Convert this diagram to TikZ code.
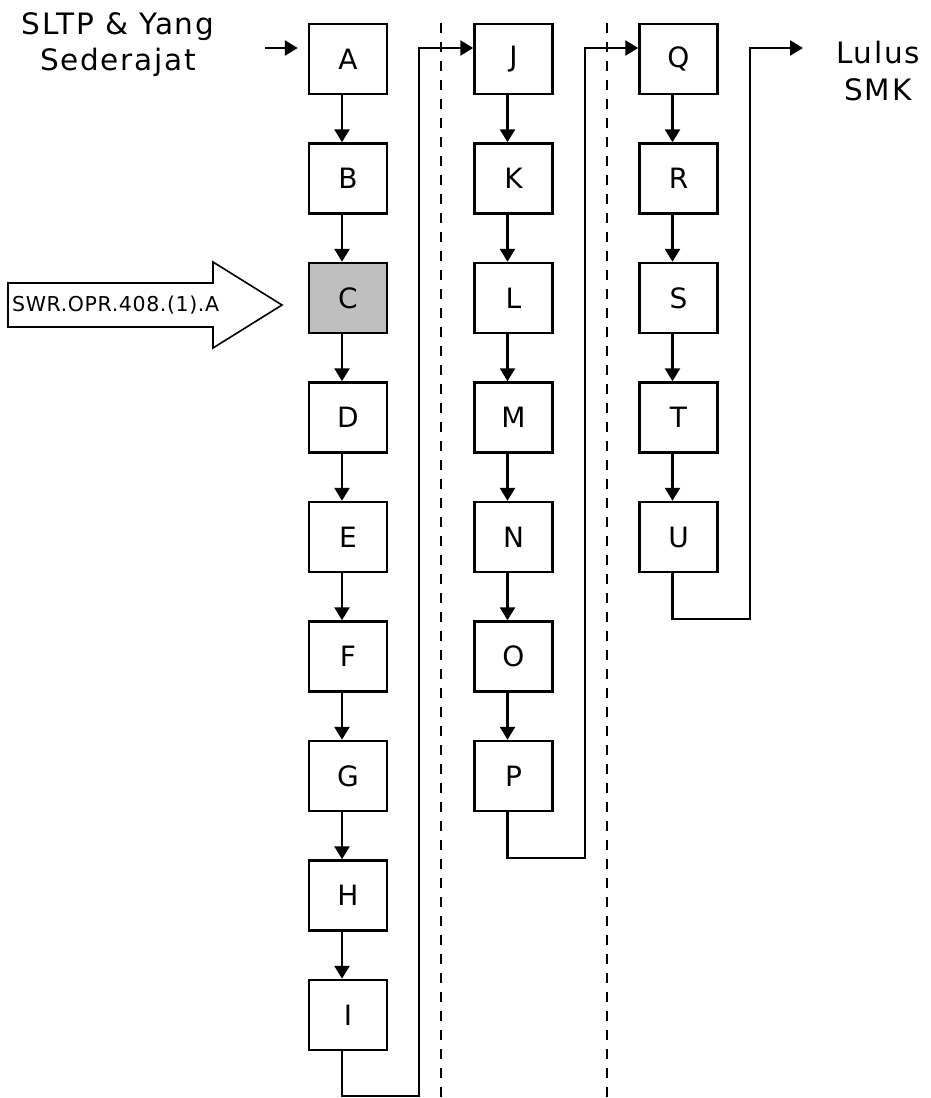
\documentclass[tikz,border=0pt]{standalone}
\usepackage{fontspec}
\setmainfont{DejaVu Sans}
\newfontfamily\widefont[LetterSpace=6]{DejaVu Sans}
\newfontfamily\codefont[LetterSpace=3]{DejaVu Sans}
\usepackage{tikz}
\usetikzlibrary{positioning, arrows.meta, calc}

\begin{document}
\begin{tikzpicture}[x=1pt, y=-1pt,
    unit/.style={rectangle, draw, black, line width=2.5pt, minimum width=78pt, minimum height=70pt, inner sep=0pt, font=\fontsize{28}{32}\selectfont},
    marked/.style={unit, fill=black!25},
    link/.style={draw, black, line width=2.6pt, -{Triangle[length=13pt, width=15pt]}},
    divider/.style={draw, black, line width=2.4pt, dash pattern=on 10pt off 9pt},
    caption/.style={align=center, font=\widefont\fontsize{29.5}{36}\selectfont}]

    \useasboundingbox (0,0) rectangle (930,1098);

    % First column
    \node[unit] (A) at (348, 59) {A};
    \node[unit] (B) at (348, 178.5) {B};
    \node[marked] (C) at (348, 298) {C};
    \node[unit] (D) at (348, 417.5) {D};
    \node[unit] (E) at (348, 537) {E};
    \node[unit] (F) at (348, 656.5) {F};
    \node[unit] (G) at (348, 776) {G};
    \node[unit] (H) at (348, 895.5) {H};
    \node[unit] (I) at (348, 1015) {I};

    % Second column
    \node[unit] (J) at (513.5, 59) {J};
    \node[unit] (K) at (513.5, 178.5) {K};
    \node[unit] (L) at (513.5, 298) {L};
    \node[unit] (M) at (513.5, 417.5) {M};
    \node[unit] (N) at (513.5, 537) {N};
    \node[unit] (O) at (513.5, 656.5) {O};
    \node[unit] (P) at (513.5, 776) {P};

    % Third column
    \node[unit] (Q) at (678.5, 59) {Q};
    \node[unit] (R) at (678.5, 178.5) {R};
    \node[unit] (S) at (678.5, 298) {S};
    \node[unit] (T) at (678.5, 417.5) {T};
    \node[unit] (U) at (678.5, 537) {U};

    % Entry and exit texts
    \node[caption] (entry) at (118, 45) {SLTP \& Yang\\Sederajat};
    \node[caption] (exit) at (878, 71) {Lulus\\SMK};
    \coordinate (entry_tail) at (265, 48);
    \coordinate (entry_tip) at ([shift={(-10pt,11pt)}]A.west);
    \coordinate (exit_tip) at (803, 48);

    % Column dividers
    \coordinate (div1_top) at (441, 23);
    \coordinate (div1_bot) at (441, 1098);
    \coordinate (div2_top) at (607, 23);
    \coordinate (div2_bot) at (607, 1098);
    \draw[divider] (div1_top) -- (div1_bot);
    \draw[divider] (div2_top) -- (div2_bot);

    % Competency arrow pointing at C
    \draw[line width=1.6pt, fill=white] (8,283) -- (213,283) -- (213,262) -- (282,305) -- (213,348) -- (213,327) -- (8,327) -- cycle;
    \node[anchor=west, inner sep=0pt, font=\codefont\fontsize{20.5}{24}\selectfont] (code) at (12, 305) {SWR.OPR.408.(1).A};

    % Entry arrow
    \draw[link] (entry_tail) -- (entry_tip);

    % Arrows inside the columns
    \draw[link] ([xshift=-6pt]A.south) -- ([xshift=-6pt]B.north);
    \draw[link] ([xshift=-6pt]B.south) -- ([xshift=-6pt]C.north);
    \draw[link] ([xshift=-6pt]C.south) -- ([xshift=-6pt]D.north);
    \draw[link] ([xshift=-6pt]D.south) -- ([xshift=-6pt]E.north);
    \draw[link] ([xshift=-6pt]E.south) -- ([xshift=-6pt]F.north);
    \draw[link] ([xshift=-6pt]F.south) -- ([xshift=-6pt]G.north);
    \draw[link] ([xshift=-6pt]G.south) -- ([xshift=-6pt]H.north);
    \draw[link] ([xshift=-6pt]H.south) -- ([xshift=-6pt]I.north);

    \draw[link] ([xshift=-6pt]J.south) -- ([xshift=-6pt]K.north);
    \draw[link] ([xshift=-6pt]K.south) -- ([xshift=-6pt]L.north);
    \draw[link] ([xshift=-6pt]L.south) -- ([xshift=-6pt]M.north);
    \draw[link] ([xshift=-6pt]M.south) -- ([xshift=-6pt]N.north);
    \draw[link] ([xshift=-6pt]N.south) -- ([xshift=-6pt]O.north);
    \draw[link] ([xshift=-6pt]O.south) -- ([xshift=-6pt]P.north);

    \draw[link] ([xshift=-6pt]Q.south) -- ([xshift=-6pt]R.north);
    \draw[link] ([xshift=-6pt]R.south) -- ([xshift=-6pt]S.north);
    \draw[link] ([xshift=-6pt]S.south) -- ([xshift=-6pt]T.north);
    \draw[link] ([xshift=-6pt]T.south) -- ([xshift=-6pt]U.north);

    % Routes between the columns
    \coordinate (turn1) at (419, 1096);
    \coordinate (turn2) at (585, 858);
    \coordinate (turn3) at (750, 619);
    \draw[link] ([xshift=-6pt]I.south) |- (turn1) |- ([yshift=11pt]J.west);
    \draw[link] ([xshift=-6pt]P.south) |- (turn2) |- ([yshift=11pt]Q.west);
    \draw[link] ([xshift=-6pt]U.south) |- (turn3) |- (exit_tip);

\end{tikzpicture}
\end{document}
